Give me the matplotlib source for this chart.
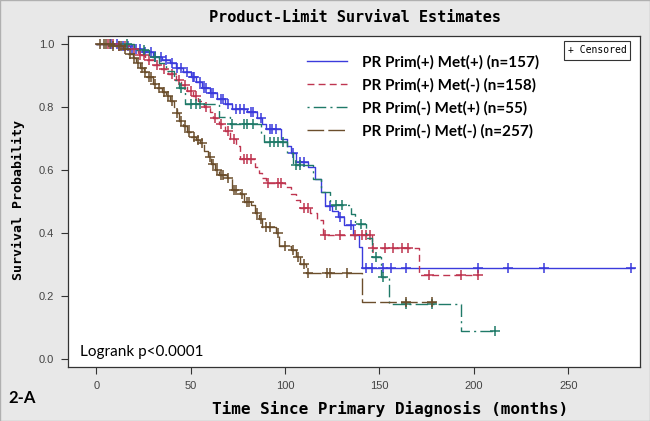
import numpy as np
import matplotlib
matplotlib.use("Agg")
import matplotlib.pyplot as plt
from matplotlib.patches import Rectangle

# step times (months) and survival after each step; *_end = last follow-up
blue_t = [0, 12, 18, 24, 30, 35, 39, 42, 46, 50, 53, 56, 60, 64, 68, 72, 80, 85, 88, 90,
          98, 101, 103, 106, 112, 116, 119, 121, 125, 128, 131, 136, 139, 141]
blue_s = [1.0, 0.995, 0.985, 0.975, 0.96, 0.95, 0.94, 0.925, 0.91, 0.895, 0.88, 0.86, 0.845,
          0.825, 0.81, 0.795, 0.785, 0.765, 0.745, 0.73, 0.70, 0.675, 0.655, 0.625, 0.61, 0.57,
          0.53, 0.485, 0.47, 0.45, 0.425, 0.395, 0.355, 0.29]
blue_end = 285
blue_cens = [8, 11, 14, 17, 19, 21, 23, 26, 29, 31, 34, 37, 40, 43, 45, 48, 51, 52, 55, 57, 58,
             61, 62, 66, 67, 70, 74, 76, 78, 82, 83, 87, 92, 93, 95, 104, 108, 110, 124, 129,
             135, 143, 146, 152, 156, 164, 202, 218, 237, 283]

red_t = [0, 10, 16, 22, 26, 30, 34, 38, 42, 45, 48, 51, 54, 57, 60, 62, 65, 68, 71, 74, 76, 84,
         86, 88, 90, 100, 103, 106, 108, 113, 117, 120, 146, 171]
red_s = [1.0, 0.995, 0.985, 0.965, 0.95, 0.935, 0.92, 0.905, 0.885, 0.87, 0.85, 0.835, 0.82,
         0.80, 0.785, 0.765, 0.745, 0.725, 0.70, 0.675, 0.635, 0.61, 0.59, 0.575, 0.56, 0.545,
         0.525, 0.505, 0.48, 0.465, 0.44, 0.395, 0.352, 0.265]
red_end = 202
red_cens = [6, 9, 12, 15, 20, 23, 25, 28, 32, 36, 40, 44, 47, 50, 53, 58, 63, 66, 70, 73, 78, 80,
            82, 91, 96, 98, 110, 112, 121, 129, 137, 141, 143, 145, 146.5, 153, 157, 162, 165,
            176, 193, 202]

green_t = [0, 20, 28, 33, 37, 41, 44, 47, 65, 71, 87, 89, 101, 104, 115, 119, 124, 135, 137,
           143, 146, 151, 155, 193]
green_s = [1.0, 0.98, 0.96, 0.94, 0.915, 0.885, 0.86, 0.81, 0.77, 0.745, 0.715, 0.69, 0.655,
           0.615, 0.57, 0.53, 0.49, 0.46, 0.43, 0.385, 0.325, 0.26, 0.175, 0.087]
green_end = 211
green_cens = [16, 25, 31, 45, 50, 53, 55, 72, 78, 80, 83, 92, 94, 96, 99, 106, 108, 127, 130,
              140, 148, 152, 164, 178, 211]

brown_t = [0, 8, 14, 17, 19.5, 21, 23, 25, 27, 30, 32, 35, 37, 39, 41, 42.6, 44, 46, 48, 50, 53,
           55, 57, 59, 61, 63, 65, 69, 72, 76, 78, 82, 84, 86, 88, 95, 97, 103, 106, 108, 111,
           140.5]
brown_s = [1.0, 0.995, 0.985, 0.97, 0.955, 0.94, 0.925, 0.91, 0.895, 0.875, 0.862, 0.848,
           0.835, 0.82, 0.8, 0.78, 0.755, 0.74, 0.72, 0.705, 0.695, 0.685, 0.66, 0.64, 0.62, 0.6,
           0.585, 0.575, 0.535, 0.525, 0.5, 0.49, 0.465, 0.445, 0.42, 0.4, 0.36, 0.345, 0.325,
           0.3, 0.273, 0.18]
brown_end = 180
brown_cens = [2, 4, 5, 7, 9, 12, 13, 15, 18, 20, 22, 24, 26, 28, 29, 31, 33, 36, 38, 40, 43, 45,
              47, 49, 52, 54, 56, 60, 62, 64, 66, 67, 70, 73, 74, 77, 80, 81, 85, 87, 90, 92, 96,
              100, 104, 107, 110, 112, 122, 124, 133, 164, 178]

labels = ['PR Prim(+) Met(+) (n=157)', 'PR Prim(+) Met(-) (n=158)',
          'PR Prim(-) Met(+) (n=55)', 'PR Prim(-) Met(-) (n=257)']

groups = [
    (blue_t, blue_s, blue_end, blue_cens, '#3b3bdc', '-'),
    (red_t, red_s, red_end, red_cens, '#bf3550', (0, (5, 3))),
    (green_t, green_s, green_end, green_cens, '#1f7a68', (0, (1.5, 3, 9, 3))),
    (brown_t, brown_s, brown_end, brown_cens, '#6b4e2c', (0, (12, 3))),
]

fig = plt.figure(figsize=(6.5, 4.21), dpi=100, facecolor='#e8e8e8')
ax = fig.add_axes([68/650, 1-367/421, (640-68)/650, (367-36)/421])

handles = []
for (t, s, end, cens, col, ls), lab in zip(groups, labels):
    tt = list(t) + [end]
    ss = list(s) + [s[-1]]
    h, = ax.step(tt, ss, where='post', color=col, lw=1.0, ls=ls, label=lab)
    handles.append(h)
    idx = np.searchsorted(np.array(t), np.array(cens), side='right') - 1
    cy = np.array(s)[idx]
    ax.plot(cens, cy, '+', color=col, ms=6.5, mew=1.1, ls='none')

ax.set_xlim(-15, 288)
ax.set_ylim(-0.026, 1.026)
ax.set_xticks([0, 50, 100, 150, 200, 250])
ax.set_yticks([0.0, 0.2, 0.4, 0.6, 0.8, 1.0])
ax.set_yticklabels(['0.0', '0.2', '0.4', '0.6', '0.8', '1.0'])
ax.tick_params(direction='out', length=5, width=0.8, colors='#333333', labelsize=8,
               pad=5)
for lab in ax.get_xticklabels() + ax.get_yticklabels():
    lab.set_fontfamily('Liberation Sans')
    lab.set_color('#444444')
for sp in ax.spines.values():
    sp.set_color('#333333')
    sp.set_linewidth(0.9)

mono = dict(family='DejaVu Sans Mono', weight='bold')
fig.text(355/650, 1-18/421, 'Product-Limit Survival Estimates', ha='center', va='center',
         fontsize=11, **mono)
fig.text(390/650, 1-409/421, 'Time Since Primary Diagnosis (months)', ha='center',
         va='center', fontsize=11.5, **mono)
fig.text(18/650, 1-200/421, 'Survival Probability', ha='center', va='center', rotation=90,
         fontsize=9.5, **mono)

fig.text(8/650, 1-398/421, '2-A', ha='left', va='center', fontsize=12, fontweight='bold',
         family='Lato')
ax.text(0.021, 0.046, 'Logrank p<0.0001', transform=ax.transAxes, ha='left', va='center',
        fontsize=11, family='Lato')

leg = ax.legend(handles=handles, loc='upper left', bbox_to_anchor=(0.408, 0.962),
                frameon=False, handlelength=2.6, handletextpad=1.0, labelspacing=0.56,
                borderaxespad=0, prop={'family': 'Lato', 'weight': 'bold', 'size': 11})

# "+ Censored" key box
ax.add_patch(Rectangle((0.868, 0.928), 0.115, 0.058, transform=ax.transAxes,
                       fill=False, lw=0.8, ec='#333333'))
ax.text(0.9255, 0.957, '+ Censored', transform=ax.transAxes, ha='center', va='center',
        fontsize=7, family='DejaVu Sans Mono')

fig.patches.append(Rectangle((0, 0), 1, 1, transform=fig.transFigure, fill=False,
                             lw=1, ec='#b0b0b0'))

fig.savefig('out.png', dpi=100, facecolor=fig.get_facecolor())
